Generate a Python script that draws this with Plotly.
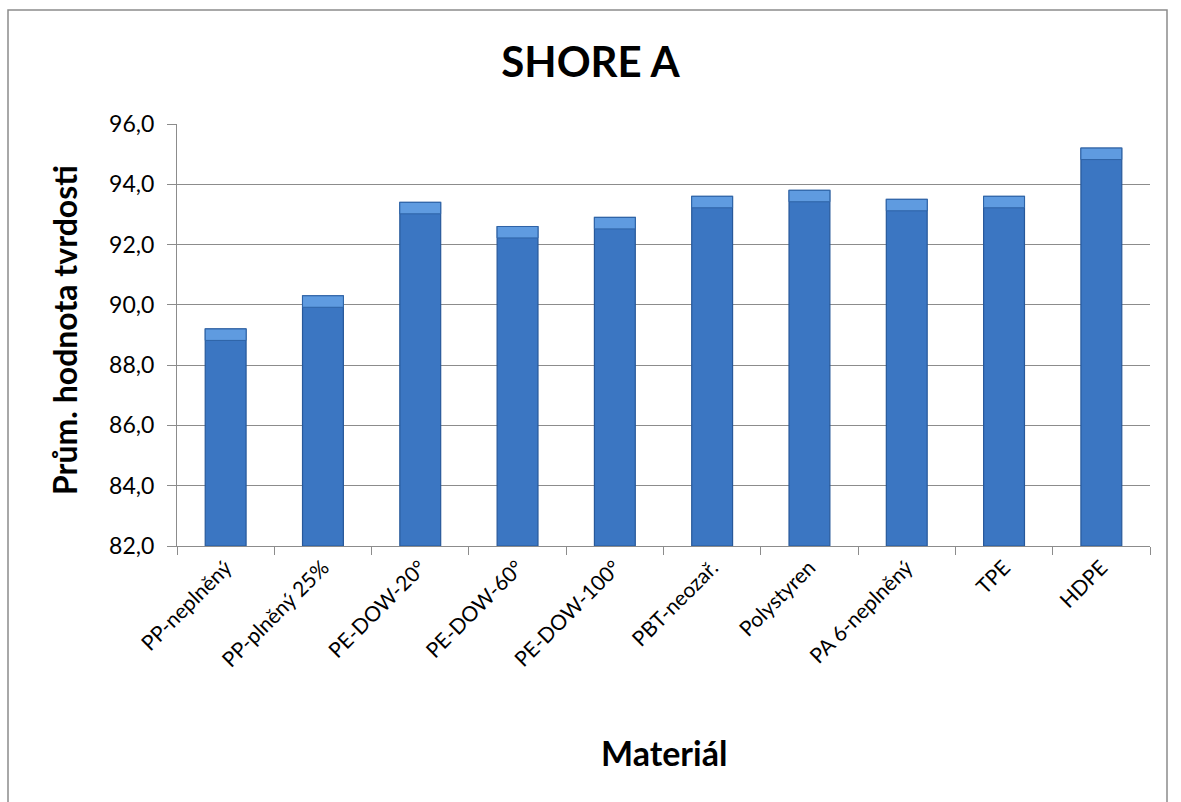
import plotly.graph_objects as go

# Shore A hardness by material
materials = ["PP-neplněný", "PP-plněný 25%", "PE-DOW-20°", "PE-DOW-60°", "PE-DOW-100°",
             "PBT-neozař.", "Polystyren", "PA 6-neplněný", "TPE", "HDPE"]
hardness = [89.2, 90.3, 93.4, 92.6, 92.9, 93.6, 93.8, 93.5, 93.6, 95.2]

AXIS_MIN = 82
W, H = 1181, 802
L, R, T, B = 177, 31, 124, 256
FONT = "Lato"
BAR_W = 0.42

fig = go.Figure()
# main column body from the axis floor up to the value
fig.add_trace(go.Bar(
    x=materials, y=[v - AXIS_MIN for v in hardness], base=AXIS_MIN,
    marker=dict(color="#3B76C2", line=dict(color="#27589A", width=1.2)),
    width=BAR_W,
))
# lighter bevel strip at the top of each column
bevel = 0.38
fig.add_trace(go.Bar(
    x=materials, y=[bevel] * len(hardness), base=[v - bevel for v in hardness],
    marker=dict(color="#5F9BE0", line=dict(color="#2E63A6", width=1)),
    width=BAR_W, hoverinfo="skip",
))

# helpers: pixel position -> plot-area paper coordinates
px_x = lambda px: (px - L) / (W - L - R)
px_y = lambda py: 1 - (py - T) / (H - T - B)

# chart frame
fig.add_shape(type="rect", xref="paper", yref="paper",
              x0=px_x(8), x1=px_x(1167), y0=px_y(830), y1=px_y(10),
              line=dict(color="#8C8C8C", width=1.5), fillcolor="rgba(0,0,0,0)", layer="below")

# axis titles
fig.add_annotation(text="<b>Materiál</b>", xref="paper", yref="paper",
                   x=0.5, y=px_y(752), xanchor="center", yanchor="middle",
                   showarrow=False, font=dict(family=FONT, size=34, color="black"))
fig.add_annotation(text="<b>Prům. hodnota tvrdosti</b>", xref="paper", yref="paper",
                   x=px_x(64), y=px_y(330), xanchor="center", yanchor="middle", textangle=-90,
                   showarrow=False, font=dict(family=FONT, size=32, color="black"))

fig.update_layout(
    width=W, height=H,
    margin=dict(l=L, r=R, t=T, b=B),
    paper_bgcolor="white", plot_bgcolor="white",
    barmode="overlay", showlegend=False,
    separators=", ",
    font=dict(family=FONT, color="black"),
    title=dict(text="<b>SHORE A</b>", x=0.5, xanchor="center", y=1 - 62 / H, yanchor="middle",
               font=dict(family=FONT, size=42, color="black")),
)
fig.update_yaxes(
    range=[AXIS_MIN, 96], dtick=2, tickformat=".1f",
    showgrid=True, gridcolor="#8C8C8C", gridwidth=1.2,
    showline=True, linecolor="#8C8C8C", linewidth=1.2,
    ticks="outside", ticklen=9, tickcolor="#8C8C8C",
    tickfont=dict(size=23, family=FONT), ticklabelstandoff=8,
    zeroline=False,
)
fig.update_xaxes(
    showline=True, linecolor="#8C8C8C", linewidth=1.2,
    ticks="outside", ticklen=8, tickcolor="#8C8C8C", tickson="boundaries",
    tickangle=-45, tickfont=dict(size=21, family=FONT),
)

fig.write_html("out.html")
